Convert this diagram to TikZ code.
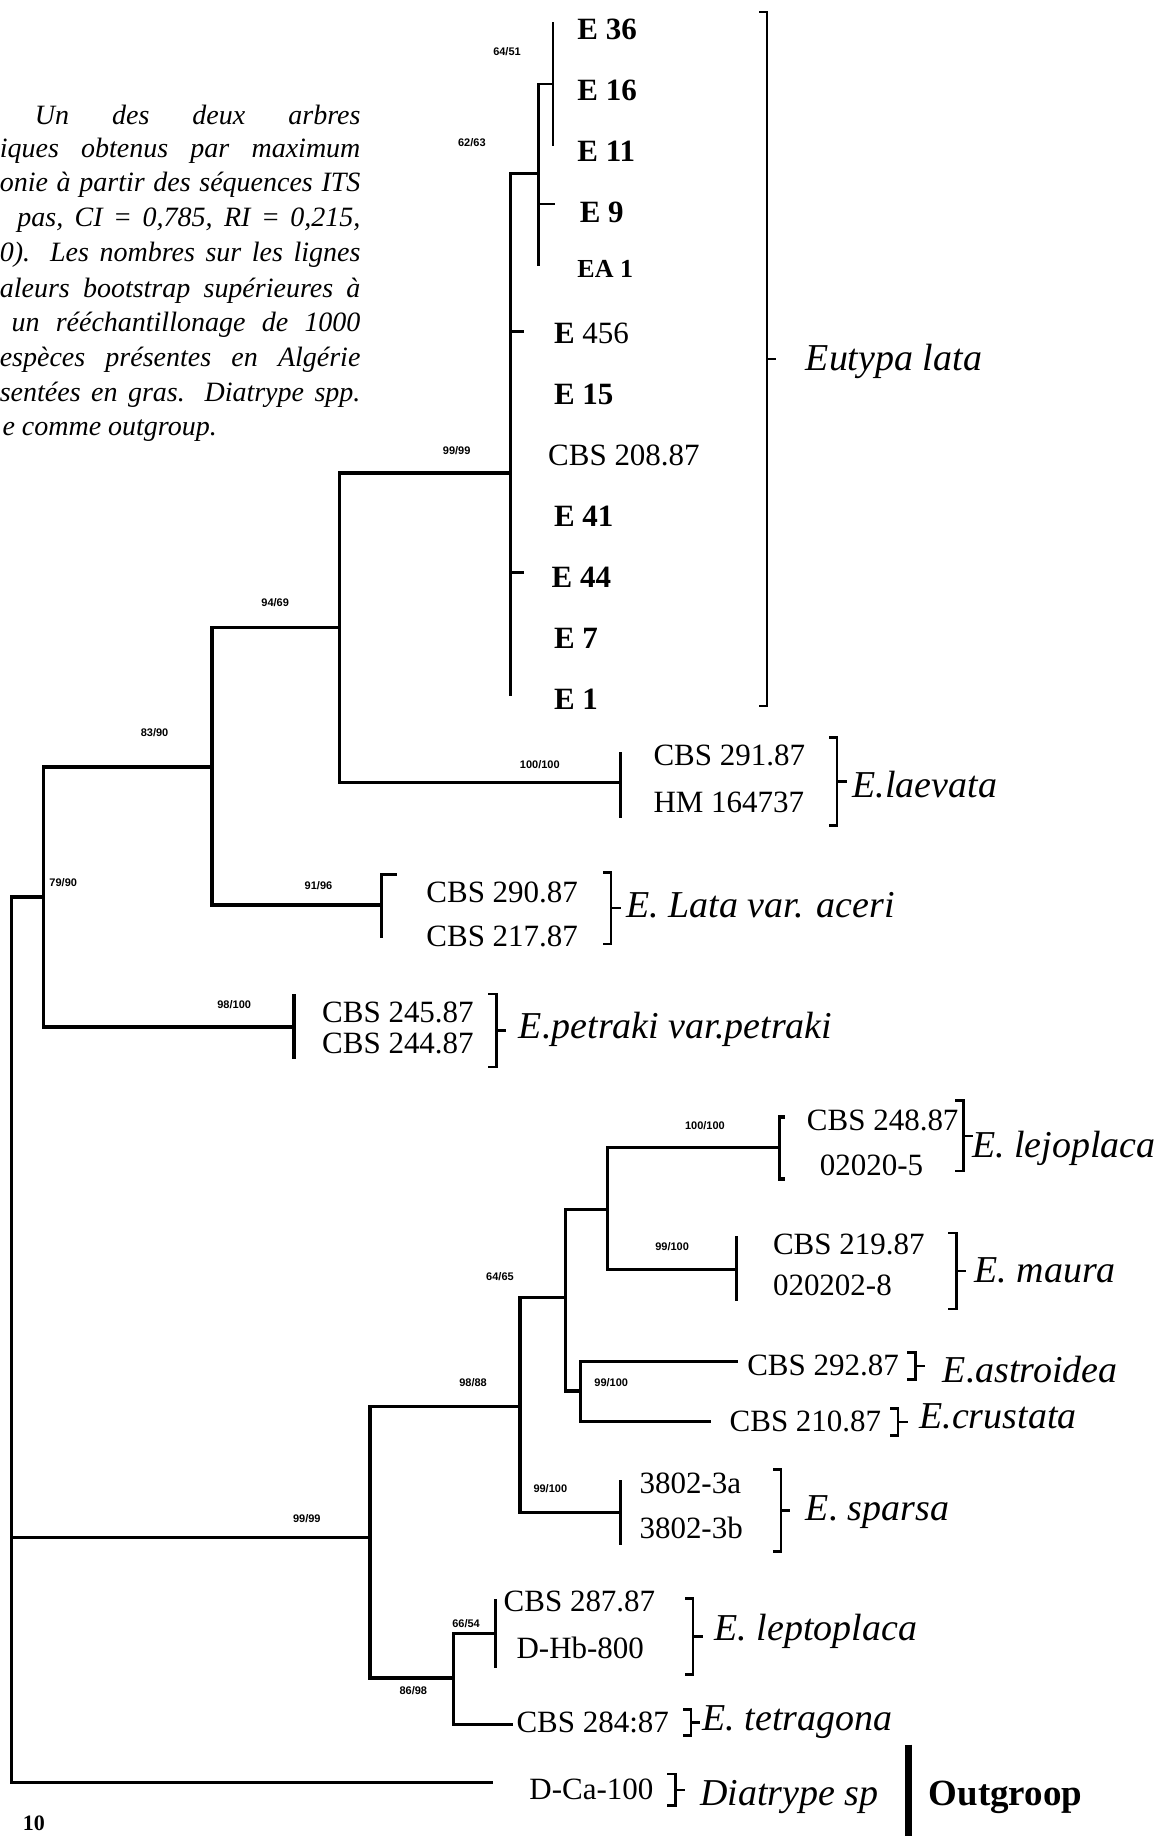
\documentclass[tikz,border=0pt]{standalone}
\usepackage{fontspec}
\setmainfont{Liberation Serif}
\newfontfamily\bootfam{Liberation Sans}
\usetikzlibrary{calc}
\newcommand\taxfont{\fontsize{31}{33}\selectfont}
\newcommand\specfont{\fontsize{38}{40}\selectfont}
\newcommand\bootfont{\bootfam\bfseries\fontsize{11}{12}\selectfont}
\newcommand\capfont{\fontsize{28}{30}\selectfont\itshape}
\newcommand\clbrk[3]{%
  \draw[brk] (#1-6,#2) -- (#1,#2) -- (#1,#3) -- (#1-6,#3);
  \draw[brk] (#1,{(#2+#3)/2}) -- (#1+7,{(#2+#3)/2});}
\newcommand\capline[4]{% name, y, width, text
  \node[anchor=east, inner sep=0pt, font=\capfont] (#1) at (308,#2)
    {\makebox[#3][s]{#4}};}
\begin{document}
\begin{tikzpicture}[x=1.1715pt,y=-1.1715pt,
  branch/.style={line width=3.3pt, line cap=rect},
  thinbr/.style={line width=2.3pt, line cap=rect},
  brk/.style={line width=2.4pt, line cap=rect},
  taxon/.style={anchor=west, inner sep=0pt, font=\taxfont},
  btaxon/.style={anchor=west, inner sep=0pt, font=\taxfont\bfseries},
  species/.style={anchor=west, inner sep=0pt, font=\specfont\itshape},
  outg/.style={anchor=west, inner sep=0pt, font=\fontsize{37}{39}\selectfont\bfseries},
  boot/.style={inner sep=0pt, font=\bootfont}]
\useasboundingbox (0,0) rectangle (1003,1568);
\clip (0,0) rectangle (1003,1568);

% caption (left part cut off)
\capline{c1}{98}{325.7pt}{Un des deux arbres}
\capline{c2}{129}{360.8pt}{iques obtenus par maximum}
\capline{c3}{158}{360.8pt}{onie à partir des séquences ITS}
\capline{c4}{188}{343.2pt}{pas, CI = 0,785, RI = 0,215,}
\capline{c5}{218}{360.8pt}{0). Les nombres sur les lignes}
\capline{c6}{248}{360.8pt}{aleurs bootstrap supérieures à}
\capline{c7}{277}{349.1pt}{un rééchantillonage de 1000}
\capline{c8}{307}{360.8pt}{espèces présentes en Algérie}
\capline{c9}{337}{360.8pt}{sentées en gras. Diatrype spp.}
\node[anchor=west, inner sep=0pt, font=\capfont] (c10) at (2,368) {e comme outgroup.};

% internal nodes
\coordinate (R) at (10,766);
\coordinate (N79) at (37,766);
\coordinate (N83) at (181,655);
\coordinate (N94) at (290,536);
\coordinate (N99) at (436,404);
\coordinate (N62) at (460,148);
\coordinate (N64) at (472,72);
\coordinate (tE36) at (472,20);
\coordinate (tE11) at (472,124);
\coordinate (tE9) at (473,174);
\coordinate (tEA1) at (460,226);
\coordinate (tE456) at (446,283);
\coordinate (tE44) at (446,489);
\coordinate (tE1) at (436,593);
\coordinate (Lae) at (530,668);
\coordinate (Ace) at (326,773);
\coordinate (Pet) at (251,877);
\coordinate (M99) at (316,1313);
\coordinate (M98) at (444,1201);
\coordinate (M64) at (483,1108);
\coordinate (MLM) at (519,1033);
\coordinate (Lej) at (666,980);
\coordinate (Mau) at (629,1084);
\coordinate (MAC) at (496,1188);
\coordinate (Ast) at (629,1163);
\coordinate (Cru) at (606,1214);
\coordinate (Spa) at (530,1292);
\coordinate (M86) at (387,1433);
\coordinate (Lep) at (423,1395);
\coordinate (Tet) at (437,1473);
\coordinate (Out) at (420,1522);

% branches
\draw[branch] (R) -- (N79);
\draw[branch] (R) |- (M99);
\draw[branch] (R) |- (Out);
\draw[branch] (N79) |- (N83);
\draw[branch] (N79) |- (Pet);
\draw[branch] (N83) |- (N94);
\draw[branch] (N83) |- (Ace);
\draw[branch] (N94) |- (N99);
\draw[branch] (N94) |- (Lae);
\draw[branch] (N99) |- (N62);
\draw[branch] (N99) |- (tE456);
\draw[branch] (N99) |- (tE44);
\draw[branch] (N99) -- (tE1);
\draw[thinbr] (N62) |- (N64);
\draw[thinbr] (N62) |- (tE9);
\draw[thinbr] (N62) -- (tEA1);
\draw[thinbr] (N64) -- (tE36);
\draw[thinbr] (N64) -- (tE11);
\draw[branch] (M99) |- (M98);
\draw[branch] (M99) |- (M86);
\draw[branch] (M98) |- (M64);
\draw[branch] (M98) |- (Spa);
\draw[branch] (M64) |- (MLM);
\draw[branch] (M64) |- (MAC);
\draw[branch] (MLM) |- (Lej);
\draw[branch] (MLM) |- (Mau);
\draw[branch] (MAC) |- (Ast);
\draw[branch] (MAC) |- (Cru);
\draw[branch] (M86) |- (Lep);
\draw[branch] (M86) |- (Tet);

% terminal bars
\draw[branch] ($(Lae)+(0,-24)$) -- ($(Lae)+(0,29)$);
\draw[branch] ($(Ace)+(12,-26)$) -- ($(Ace)+(0,-26)$) -- ($(Ace)+(0,27)$);
\draw[branch] ($(Pet)+(0,-27)$) -- ($(Pet)+(0,26)$);
\draw[branch] ($(Lej)+(3,-26)$) -- ($(Lej)+(0,-26)$) -- ($(Lej)+(0,27)$) -- ($(Lej)+(3,27)$);
\draw[branch] ($(Mau)+(0,-27)$) -- ($(Mau)+(0,26)$);
\draw[branch] ($(Spa)+(0,-27)$) -- ($(Spa)+(0,26)$);
\draw[branch] ($(Lep)+(0,-28)$) -- ($(Lep)+(0,28)$);

% Eutypa lata strains
\node[btaxon] (E36) at (493,25) {E 36};
\node[btaxon] (E16) at (493,77) {E 16};
\node[btaxon] (E11) at (493,129) {E 11};
\node[btaxon] (E9) at (495,181) {E 9};
\node[anchor=west, inner sep=0pt, font=\fontsize{26}{28}\selectfont\bfseries] (EA1) at (493,230) {EA 1};
\node[taxon] (E456) at (473,285) {\textbf{E} 456};
\node[btaxon] (E15) at (473,337) {E 15};
\node[taxon] (CBS208) at (468,389) {CBS 208.87};
\node[btaxon] (E41) at (473,441) {E 41};
\node[btaxon] (E44) at (471,493) {E 44};
\node[btaxon] (E7) at (473,545) {E 7};
\node[btaxon] (E1) at (473,597) {E 1};

% other strains
\node[taxon] (CBS291) at (558,645) {CBS 291.87};
\node[taxon] (HM) at (558,685) {HM 164737};
\node[taxon] (CBS290) at (364,762) {CBS 290.87};
\node[taxon] (CBS217) at (364,800) {CBS 217.87};
\node[taxon] (CBS245) at (275,865) {CBS 245.87};
\node[taxon] (CBS244) at (275,891) {CBS 244.87};
\node[taxon] (CBS248) at (689,957) {CBS 248.87};
\node[taxon] (L02020) at (700,995) {02020-5};
\node[taxon] (CBS219) at (660,1063) {CBS 219.87};
\node[taxon] (L020202) at (660,1098) {020202-8};
\node[taxon] (CBS292) at (638,1166) {CBS 292.87};
\node[taxon] (CBS210) at (623,1214) {CBS 210.87};
\node[taxon] (S3a) at (546,1267) {3802-3a};
\node[taxon] (S3b) at (546,1305) {3802-3b};
\node[taxon] (CBS287) at (430,1368) {CBS 287.87};
\node[taxon] (DHb) at (441,1407) {D-Hb-800};
\node[taxon] (CBS284) at (441,1471) {CBS 284:87};
\node[taxon] (DCa) at (452,1528) {D-Ca-100};

% species brackets
\clbrk{655}{10}{603}
\clbrk{715}{630}{705}
\clbrk{522}{745}{806}
\clbrk{424}{849}{911}
\clbrk{823}{940}{1000}
\clbrk{817}{1053}{1118}
\clbrk{782}{1155}{1178}
\clbrk{767}{1203}{1226}
\clbrk{667}{1255}{1325}
\clbrk{592}{1365}{1430}
\clbrk{590}{1460}{1482}
\clbrk{577}{1515}{1542}
\draw[line width=6.5pt] (776,1490) -- (776,1568);

% species names
\node[species] (sLata) at (688,309) {Eutypa lata};
\node[species] (sLae) at (728,670) {E.laevata};
\node[species] (sAce) at (535,773) {E. Lata var. aceri};
\node[species] (sPet) at (443,879) {E.petraki var.petraki};
\node[species] (sLej) at (830,981) {E. lejoplaca};
\node[species] (sMau) at (832,1085) {E. maura};
\node[species] (sAst) at (805,1170) {E.astroidea};
\node[species] (sCru) at (785,1210) {E.crustata};
\node[species] (sSpa) at (688,1291) {E. sparsa};
\node[species] (sLep) at (610,1393) {E. leptoplaca};
\node[species] (sTet) at (600,1471) {E. tetragona};
\node[species] (sDia) at (598,1535) {Diatrype sp};
\node[outg] (sOut) at (793,1535) {Outgroop};

% bootstrap values
\node[boot] (b1) at (433,44) {64/51};
\node[boot] (b2) at (403,122) {62/63};
\node[boot] (b3) at (390,385) {99/99};
\node[boot] (b4) at (235,515) {94/69};
\node[boot] (b5) at (461,653) {100/100};
\node[boot] (b6) at (132,626) {83/90};
\node[boot] (b7) at (272,756) {91/96};
\node[boot] (b8) at (54,754) {79/90};
\node[boot] (b9) at (200,858) {98/100};
\node[boot] (b10) at (602,961) {100/100};
\node[boot] (b11) at (574,1065) {99/100};
\node[boot] (b12) at (427,1090) {64/65};
\node[boot] (b13) at (522,1181) {99/100};
\node[boot] (b14) at (404,1181) {98/88};
\node[boot] (b15) at (470,1271) {99/100};
\node[boot] (b16) at (262,1297) {99/99};
\node[boot] (b17) at (398,1387) {66/54};
\node[boot] (b18) at (353,1444) {86/98};

% scale
\node[inner sep=0pt, font=\fontsize{22}{24}\selectfont\bfseries] (scale) at (29,1557) {10};
\end{tikzpicture}
\end{document}
